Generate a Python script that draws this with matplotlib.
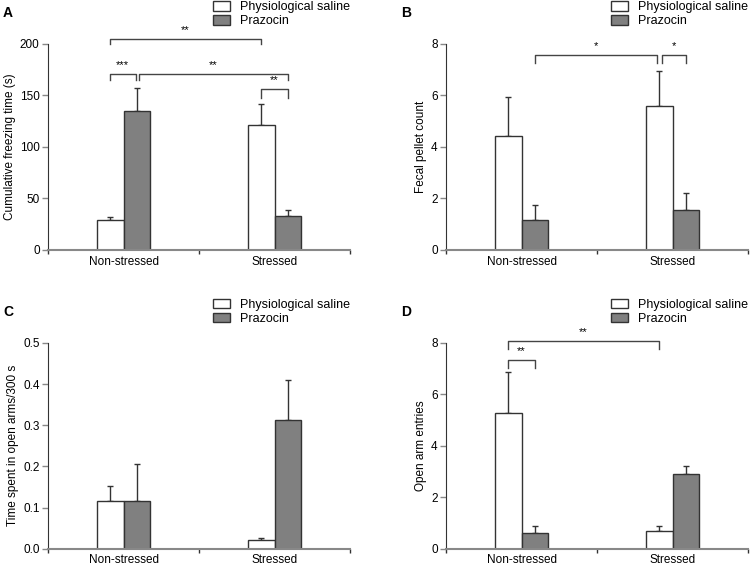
import numpy as np
import matplotlib
matplotlib.use("Agg")
import matplotlib.pyplot as plt
from matplotlib.patches import Patch

plt.rcParams['font.family'] = ['Liberation Sans', 'DejaVu Sans']

groups = ["Non-stressed", "Stressed"]
series = ["Physiological saline", "Prazocin"]

# panel A: cumulative freezing time (s)
freeze_mean = [[29, 121], [135, 33]]
freeze_err = [[3, 21], [22, 5.5]]
# panel B: fecal pellet count
fecal_mean = [[4.42, 5.6], [1.18, 1.54]]
fecal_err = [[1.52, 1.35], [0.58, 0.66]]
# panel C: time spent in open arms / 300 s
time_mean = [[0.115, 0.021], [0.115, 0.314]]
time_err = [[0.038, 0.006], [0.091, 0.097]]
# panel D: open arm entries
entry_mean = [[5.26, 0.67], [0.6, 2.92]]
entry_err = [[1.63, 0.23], [0.3, 0.31]]

# significance brackets: (x1, x2, y_bar, leg_length, text)
freeze_sig = [(0.41, 1.41, 204.5, 4.5, "**"), (0.41, 0.58, 171, 6, "***"),
              (0.6, 1.59, 171, 6, "**"), (1.41, 1.59, 156, 8, "**")]
fecal_sig = [(0.59, 1.40, 7.57, 0.3, "*"), (1.43, 1.59, 7.57, 0.3, "*")]
entry_sig = [(0.41, 1.41, 8.08, 0.3, "**"), (0.41, 0.59, 7.34, 0.3, "**")]

panels = [
    ("A", [0.064, 0.5591, 0.4027, 0.3633], freeze_mean, freeze_err, 200, [0, 50, 100, 150, 200],
     ["0", "50", "100", "150", "200"], "Cumulative freezing time (s)", freeze_sig, 1.0),
    ("B", [0.5947, 0.5591, 0.4027, 0.3633], fecal_mean, fecal_err, 8, [0, 2, 4, 6, 8],
     ["0", "2", "4", "6", "8"], "Fecal pellet count", fecal_sig, 1.0),
    ("C", [0.064, 0.0323, 0.4027, 0.3628], time_mean, time_err, 0.5, [0, 0.1, 0.2, 0.3, 0.4, 0.5],
     ["0.0", "0.1", "0.2", "0.3", "0.4", "0.5"], "Time spent in open arms/300 s", [], 0.475),
    ("D", [0.5947, 0.0323, 0.4027, 0.3628], entry_mean, entry_err, 8, [0, 2, 4, 6, 8],
     ["0", "2", "4", "6", "8"], "Open arm entries", entry_sig, 0.475),
]

fill = ["white", "#808080"]
edge = "#333333"
light = "#888888"
w = 0.175

fig = plt.figure(figsize=(7.5, 5.67), dpi=100)

for letter, pos, mean, err, ymax, yt, ytl, ylab, sig, leg_y in panels:
    ax = fig.add_axes(pos)
    x = np.arange(len(groups)) + 0.5
    for i in range(2):
        xs = x + (i - 0.5) * w
        ax.bar(xs, mean[i], w, color=fill[i], edgecolor=edge, linewidth=1.0, zorder=2)
        ax.errorbar(xs, mean[i], yerr=[np.zeros(2), err[i]], fmt="none",
                    ecolor=edge, elinewidth=1.0, capsize=2.5, capthick=1.0, zorder=1)
    ax.set_xlim(0, 2)
    ax.set_ylim(0, ymax)
    ax.set_yticks(yt)
    ax.set_yticklabels(ytl, fontsize=8.5)
    ax.set_xticks([0, 1, 2])
    ax.set_xticklabels([])
    ax.set_xticks(x, minor=True)
    ax.set_xticklabels(groups, minor=True, fontsize=8.5)
    ax.tick_params(axis="x", which="minor", length=0, pad=4)
    ax.tick_params(axis="x", which="major", length=3, width=1, color=edge)
    ax.tick_params(axis="y", length=4, width=1, color=light, pad=2)
    ax.spines["top"].set_visible(False)
    ax.spines["right"].set_visible(False)
    ax.spines["left"].set_color(edge)
    ax.spines["bottom"].set_color(light)
    ax.spines["bottom"].set_linewidth(1.5)
    ax.set_ylabel(ylab, fontsize=8.5, labelpad=3)

    for x1, x2, yb, leg, txt in sig:
        ax.plot([x1, x1, x2, x2], [yb - leg, yb, yb, yb - leg], color="#444444",
                linewidth=1.0, clip_on=False)
        ax.text((x1 + x2) / 2, yb + ymax * 0.02, txt, ha="center", va="bottom",
                fontsize=8, clip_on=False)

    ax.text(pos[0] - 0.06, pos[1] + pos[3] + 0.055, letter, transform=fig.transFigure,
            fontsize=10, fontweight="bold", ha="left", va="center")

    handles = [Patch(facecolor=fill[i], edgecolor=edge, label=series[i]) for i in range(2)]
    fig.legend(handles=handles, loc="upper left",
               bbox_to_anchor=(pos[0] + 0.218, leg_y),
               frameon=False, fontsize=9, handlelength=1.4, handleheight=0.8,
               labelspacing=0.15, handletextpad=0.8, borderpad=0.1, borderaxespad=0)

fig.savefig("out.png", dpi=100)
